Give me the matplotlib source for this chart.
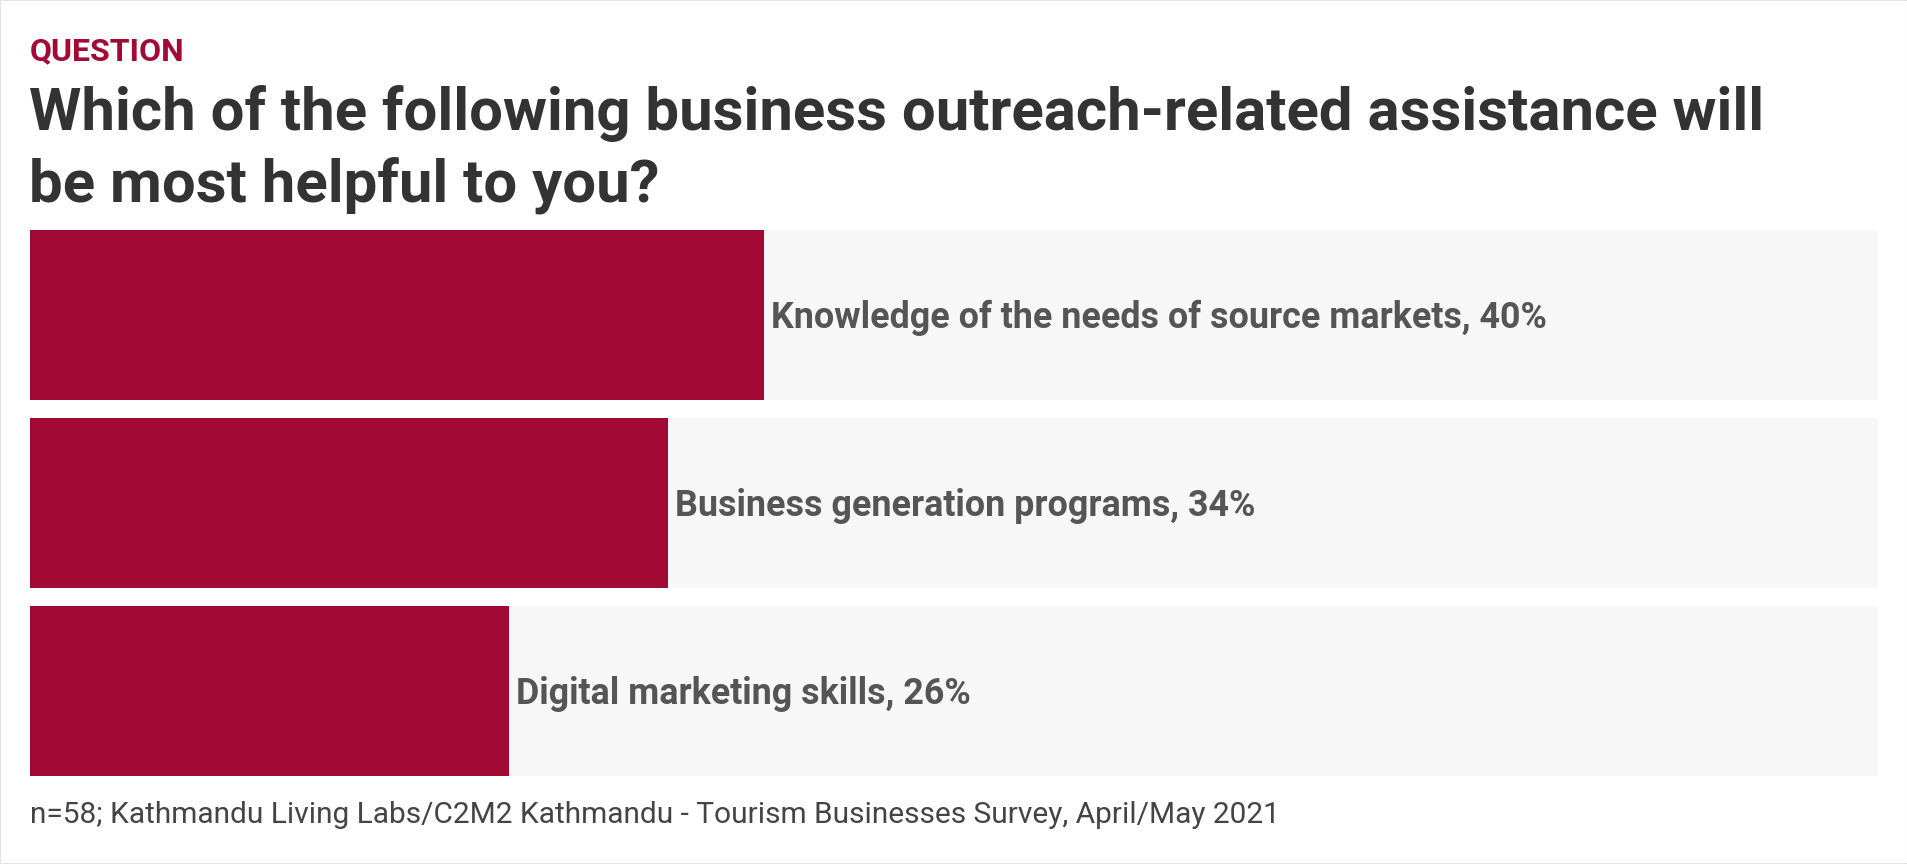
import matplotlib
matplotlib.use("agg")
import matplotlib.pyplot as plt
from matplotlib.patches import Rectangle

# data (share of respondents, %)
categories = ["Knowledge of the needs of source markets",
              "Business generation programs",
              "Digital marketing skills"]
values = [39.7, 34.5, 25.9]
shown_pct = ["40%", "34%", "26%"]

kicker = "QUESTION"
title_lines = ["Which of the following business outreach-related assistance will",
               "be most helpful to you?"]
footer = "n=58; Kathmandu Living Labs/C2M2 Kathmandu - Tourism Businesses Survey, April/May 2021"

RED = "#a20a35"
TRACK = "#f7f7f7"
W, H = 1908, 864

plt.rcParams["font.family"] = ["Roboto", "DejaVu Sans"]

fig = plt.figure(figsize=(W / 100, H / 100), dpi=100)
fig.patch.set_facecolor("white")
fig.patches.append(Rectangle((0, 0), 1, 1, transform=fig.transFigure,
                             fill=False, edgecolor="#e3e3e3", linewidth=1.5))

def px(x, y):
    return x / W, 1 - y / H

# bar area: x 30..1878, y 230..776 (pixels from top)
ax = fig.add_axes([30 / W, 88 / H, 1848 / W, 546 / H])
bar_h = 170 / 188
ypos = list(range(len(categories)))
ax.barh(ypos, [100] * len(ypos), height=bar_h, color=TRACK, zorder=1)
ax.barh(ypos, values, height=bar_h, color=RED, zorder=2)
ax.set_xlim(0, 100)
ax.set_ylim(len(ypos) - 1 + bar_h / 2, -bar_h / 2)
ax.axis("off")

for i, (cat, v, p) in enumerate(zip(categories, values, shown_pct)):
    ax.annotate(f"{cat}, {p}", xy=(v, i + 0.068), xytext=(5.5, 0),
                textcoords="offset points", va="baseline", ha="left",
                fontsize=25.8, fontweight="bold", color="#555555", zorder=3)

fig.text(*px(30, 60), kicker, fontsize=23, fontweight="bold", color=RED,
         va="baseline", ha="left")
fig.text(*px(29, 130), title_lines[0], fontsize=43.1, fontweight="bold",
         color="#333333", va="baseline", ha="left")
fig.text(*px(29, 201), title_lines[1], fontsize=43.1, fontweight="bold",
         color="#333333", va="baseline", ha="left")
fig.text(*px(30, 823), footer, fontsize=21.5, color="#444444",
         va="baseline", ha="left")

fig.savefig("out.png", dpi=100, facecolor="white")
